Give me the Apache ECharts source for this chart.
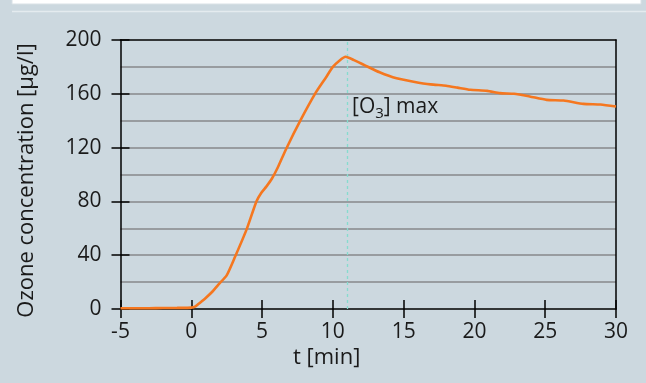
<!DOCTYPE html>
<html>
<head>
<meta charset="utf-8">
<script src="https://cdn.jsdelivr.net/npm/echarts@6/dist/echarts.min.js"></script>
<style>
html,body{margin:0;padding:0;background:#ccd8df;}
#c{width:646px;height:383px;}
</style>
</head>
<body>
<div id="c"></div>
<script>
// Data
const timeMin = [-5, -4, -3, -2, -1, 0, 0.3, 0.6, 1.0, 1.5, 1.9, 2.5, 3.1, 3.9, 4.6, 4.95, 5.3, 5.7, 6.1, 6.7, 7.7, 8.8, 9.5, 10.0, 10.5, 10.9, 11.5, 12.2, 13.3, 14.5, 15.7, 16.9, 18.0, 18.8, 19.7, 20.9, 21.8, 22.8, 23.9, 25.1, 26.3, 27.7, 28.9, 30];
const ozone = [0.6, 0.6, 0.6, 0.7, 0.8, 1, 2, 4.5, 8, 13, 18, 25, 39, 59, 80, 86.5, 91, 97, 105, 119, 140, 161, 172, 180, 185, 187.5, 185, 181.5, 176, 171.5, 169, 167, 166, 164.6, 163, 162.2, 160.5, 160, 158, 155.5, 155, 152.5, 152, 150.5];
const maxTime = 11;
const maxLabelPos = [11, 150];
const xTitle = 't [min]';
const yTitle = 'Ozone concentration [µg/l]';

const FONT = 'Open Sans';
const TXT = '#1a1a1a';
const chart = echarts.init(document.getElementById('c'), null, {renderer: 'canvas'});

const baseX = {type: 'value', min: -5, max: 30, interval: 5, splitLine: {show: false}};
const baseY = {type: 'value', min: 0, max: 200, interval: 40, splitLine: {show: false}};

chart.setOption({
  backgroundColor: '#ccd8df',
  animation: false,
  grid: {left: 120.5, right: 30, top: 40, bottom: 74, containLabel: false},
  graphic: [
    {type: 'rect', shape: {x: 12, y: -2, width: 629, height: 6}, style: {fill: '#ffffff', stroke: '#d9e1e6', lineWidth: 1}, silent: true},
    {type: 'line', shape: {x1: 12, y1: 11.5, x2: 646, y2: 11.5}, style: {stroke: '#e4ebef', lineWidth: 1.5}, silent: true},
    {type: 'text', left: 293, top: 347, style: {text: xTitle, font: '22px "' + FONT + '"', fill: TXT}}
  ],
  xAxis: [
    Object.assign({}, baseX, {position: 'bottom',
      axisLine: {onZero: false, lineStyle: {color: '#000', width: 1.5}},
      axisTick: {show: true, inside: false, length: 9, lineStyle: {color: '#000', width: 1.5}},
      axisLabel: {show: true, margin: 13, color: TXT, fontSize: 21, fontFamily: FONT,
        formatter: v => String(v)}}),
    Object.assign({}, baseX, {position: 'bottom',
      axisLine: {show: false, onZero: false},
      axisTick: {show: true, inside: true, length: 9, lineStyle: {color: '#000', width: 1.5}},
      axisLabel: {show: false}}),
    Object.assign({}, baseX, {position: 'top',
      axisLine: {show: true, onZero: false, lineStyle: {color: '#000', width: 1.5}},
      axisTick: {show: false}, axisLabel: {show: false}})
  ],
  yAxis: [
    Object.assign({}, baseY, {position: 'left',
      name: yTitle, nameLocation: 'middle', nameGap: 83,
      nameTextStyle: {color: TXT, fontSize: 22, fontFamily: FONT, padding: [0, 12, 0, 0]},
      axisLine: {show: true, onZero: false, lineStyle: {color: '#000', width: 1.5}},
      axisTick: {show: true, inside: false, length: 9, lineStyle: {color: '#000', width: 1.5}},
      axisLabel: {show: true, margin: 19, color: TXT, fontSize: 21, fontFamily: FONT}}),
    Object.assign({}, baseY, {position: 'left',
      axisLine: {show: false, onZero: false},
      axisTick: {show: true, inside: true, length: 9, lineStyle: {color: '#000', width: 1.5}},
      axisLabel: {show: false}}),
    Object.assign({}, baseY, {position: 'left', interval: 20,
      axisLine: {show: false, onZero: false}, axisTick: {show: false}, axisLabel: {show: false},
      splitLine: {show: true, showMinLine: false, showMaxLine: false, lineStyle: {color: '#989ca0', width: 2}}}),
    Object.assign({}, baseY, {position: 'right',
      axisLine: {show: true, onZero: false, lineStyle: {color: '#000', width: 1.5}},
      axisTick: {show: false}, axisLabel: {show: false}})
  ],
  series: [{
    type: 'line',
    xAxisIndex: 0, yAxisIndex: 0,
    data: timeMin.map((t, i) => [t, ozone[i]]),
    showSymbol: false, symbol: 'none',
    smooth: 0.2,
    lineStyle: {color: '#f5771f', width: 2.6},
    z: 5,
    markLine: {
      silent: true, symbol: 'none',
      lineStyle: {color: '#86dccf', type: [3, 3], width: 1.3},
      label: {show: false},
      data: [{xAxis: maxTime}]
    },
    markPoint: {
      silent: true, symbol: 'circle', symbolSize: 0,
      data: [{coord: maxLabelPos}],
      label: {
        show: true, position: 'right', distance: 5,
        formatter: '{n|[O}{s|3}{n|] max}',
        rich: {
          n: {fontSize: 21, fontFamily: FONT, color: TXT},
          s: {fontSize: 15, fontFamily: FONT, color: TXT, padding: [13, 0, 0, 0]}
        }
      }
    }
  }]
});
</script>
</body>
</html>
